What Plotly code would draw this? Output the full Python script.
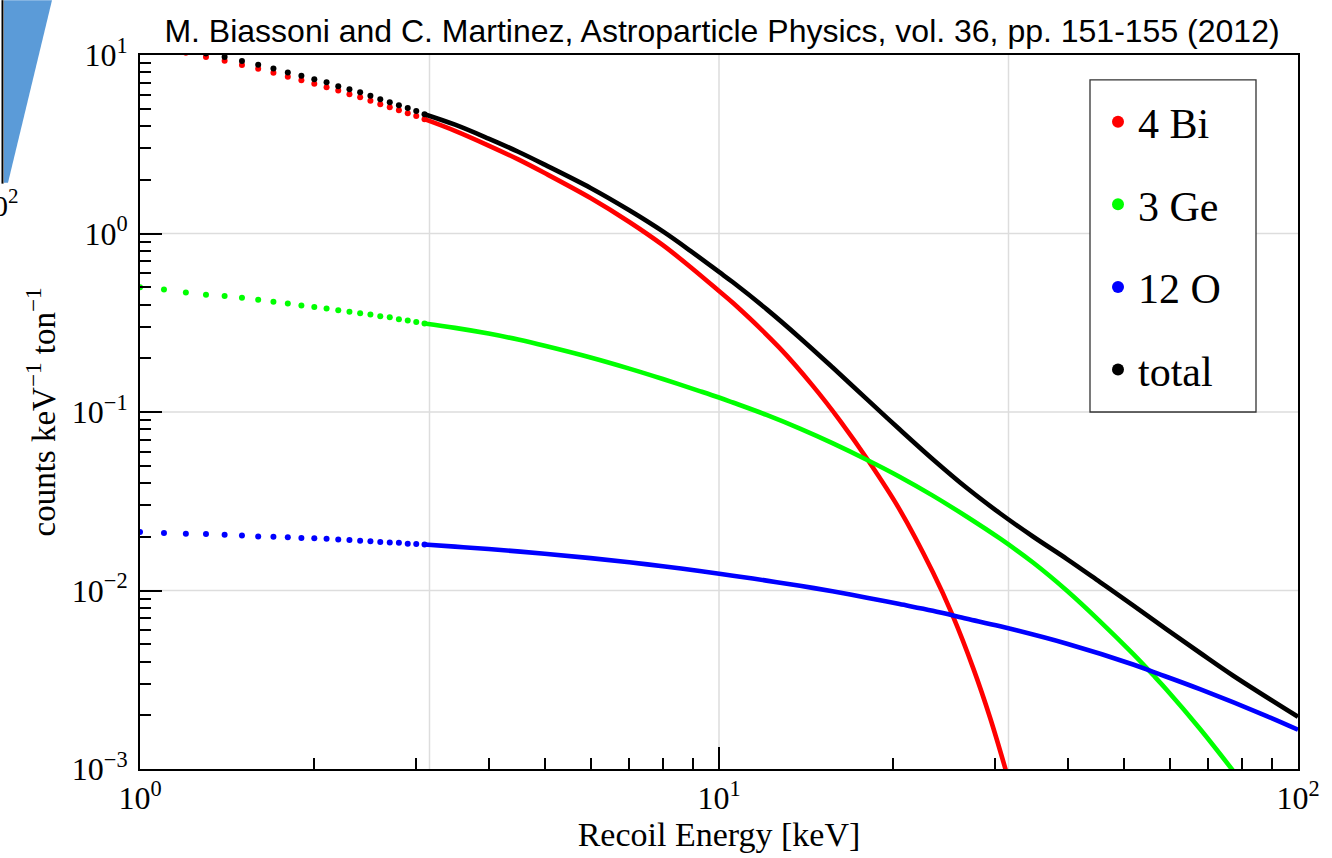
import plotly.graph_objects as go

# ---------------- data ----------------
# low-energy region: individual dots every 0.1 keV
energy_dots = [1.0, 1.1, 1.2, 1.3, 1.4, 1.5, 1.6, 1.7, 1.8, 1.9, 2.0,
               2.1, 2.2, 2.3, 2.4, 2.5, 2.6, 2.7, 2.8, 2.9, 3.0, 3.1]
bi_dots = [11.4, 10.8, 10.3, 9.75, 9.3, 8.8, 8.38, 7.96, 7.56, 7.22, 6.91,
           6.6, 6.32, 6.03, 5.8, 5.55, 5.3, 5.1, 4.91, 4.72, 4.55, 4.37]
ge_dots = [0.50, 0.485, 0.467, 0.454, 0.447, 0.437, 0.426, 0.415, 0.405, 0.395, 0.388,
           0.380, 0.371, 0.365, 0.357, 0.352, 0.344, 0.339, 0.331, 0.326, 0.319, 0.313]
o_dots = [0.0213, 0.0210, 0.0208, 0.0207, 0.0205, 0.0203, 0.0201, 0.0200, 0.0199, 0.0197, 0.0196,
          0.0195, 0.0193, 0.0192, 0.0190, 0.0189, 0.0187, 0.0186, 0.0185, 0.0183, 0.0182, 0.0181]
total_dots = [12.0, 11.4, 10.8, 10.2, 9.75, 9.25, 8.83, 8.4, 7.98, 7.65, 7.32,
              7.04, 6.68, 6.43, 6.19, 5.92, 5.65, 5.44, 5.23, 5.04, 4.85, 4.66]

# higher-energy region: dots merge into a continuous curve
bi_line_e = [3.1, 3.5, 4, 4.5, 5, 6, 7, 8, 9, 10, 10.6, 12.7, 14.5, 16.2, 18.1,
             20.5, 23.4, 25.3, 27.5, 29.4, 31.6]
bi_line_v = [4.37, 3.76, 3.11, 2.60, 2.18, 1.58, 1.16, 0.86, 0.635, 0.476, 0.405, 0.23,
             0.141, 0.089, 0.0535, 0.0285, 0.0127, 0.0073, 0.00365, 0.00193, 0.00088]

ge_line_e = [3.1, 3.5, 4, 4.5, 5, 6, 7, 8, 9.26, 10, 10.57, 12.08, 13.8, 15.7, 18.1,
             20.5, 23.4, 26.8, 30.6, 34.9, 39.9, 45.5, 51.9, 56.2, 59.3, 67.7, 77.3]
ge_line_v = [0.313, 0.296, 0.275, 0.2545, 0.235, 0.202, 0.175, 0.153, 0.131, 0.1205, 0.113,
             0.0963, 0.0807, 0.0669, 0.0535, 0.0434, 0.034, 0.0259, 0.0195, 0.0143,
             0.00997, 0.00672, 0.00441, 0.00336, 0.00278, 0.00168, 0.000975]

o_line_e = [3.1, 3.5, 4, 5, 6, 7, 8, 9.26, 10.57, 12.08, 13.8, 15.7, 18.0, 20.5, 23.4,
            26.8, 30.6, 39.9, 51.9, 56.2, 67.7, 88.3, 100]
o_line_v = [0.0181, 0.01762, 0.01707, 0.01607, 0.01519, 0.01439, 0.01368, 0.01286, 0.0121,
            0.01136, 0.01063, 0.0099, 0.00912, 0.00839, 0.0077, 0.00695, 0.0063, 0.00503,
            0.00385, 0.0035, 0.0028, 0.00198, 0.00166]

total_line_e = [3.1, 3.5, 4, 4.5, 5, 6, 7, 8, 9, 10, 10.57, 12.08, 13.8, 15.7, 18.0,
                20.5, 23.4, 26.8, 30.6, 34.9, 39.9, 45.5, 51.9, 59.3, 67.7, 77.3, 100]
total_line_v = [4.66, 4.07, 3.40, 2.87, 2.43, 1.80, 1.35, 1.027, 0.784, 0.609, 0.533, 0.377,
                0.260, 0.178, 0.118, 0.080, 0.0544, 0.0375, 0.027, 0.0200, 0.015, 0.01115,
                0.00826, 0.00606, 0.00448, 0.00333, 0.00196]

series_names = ["4 Bi", "3 Ge", "12 O", "total"]
series_colors = ["#ff0000", "#00ff00", "#0000ff", "#000000"]

x_tick_vals = [1, 10, 100]
x_tick_text = ["10<sup>0</sup>", "10<sup>1</sup>", "10<sup>2</sup>"]
y_tick_vals = [0.001, 0.01, 0.1, 1, 10]
y_tick_text = ["10<sup>−3</sup>", "10<sup>−2</sup>", "10<sup>−1</sup>",
               "10<sup>0</sup>", "10<sup>1</sup>"]
x_minor_vals = [2, 3, 4, 5, 6, 7, 8, 9, 20, 30, 40, 50, 60, 70, 80, 90]
y_minor_vals = [0.002, 0.003, 0.004, 0.005, 0.006, 0.007, 0.008, 0.009,
                0.02, 0.03, 0.04, 0.05, 0.06, 0.07, 0.08, 0.09,
                0.2, 0.3, 0.4, 0.5, 0.6, 0.7, 0.8, 0.9,
                2, 3, 4, 5, 6, 7, 8, 9]
x_grid_vals = [3.1623, 10, 31.623]
y_grid_vals = [0.01, 0.1, 1]

title_text = "M. Biassoni and C. Martinez, Astroparticle Physics, vol. 36, pp. 151-155 (2012)"

SERIF = "Liberation Serif, Times New Roman, serif"
SANS = "Liberation Sans, Arial, Helvetica, sans-serif"

# ---------------- figure ----------------
fig = go.Figure()

dot_sets = [bi_dots, ge_dots, o_dots, total_dots]
line_sets = [(bi_line_e, bi_line_v), (ge_line_e, ge_line_v),
             (o_line_e, o_line_v), (total_line_e, total_line_v)]

for name, color, dots, (le, lv) in zip(series_names, series_colors, dot_sets, line_sets):
    fig.add_trace(go.Scatter(
        x=energy_dots, y=dots, mode="markers", name=name,
        legendgroup=name, showlegend=True,
        marker=dict(color=color, size=6, line=dict(width=0)),
    ))
    fig.add_trace(go.Scatter(
        x=le, y=lv, mode="lines", name=name,
        legendgroup=name, showlegend=False,
        line=dict(color=color, width=4.6, shape="spline", smoothing=1.0),
    ))

# plot-area pixel geometry
L, R, T, B = 140, 34, 55, 87
W, H = 1332, 858
pw, ph = W - L - R, H - T - B


def px_x(px):
    return (px - L) / pw


def px_y(py):
    return (H - B - py) / ph


shapes = []
for gx in x_grid_vals:
    shapes.append(dict(type="line", xref="x", yref="paper", x0=gx, x1=gx, y0=0, y1=1,
                       line=dict(color="#dddddd", width=1.5), layer="below"))
for gy in y_grid_vals:
    shapes.append(dict(type="line", xref="paper", yref="y", x0=0, x1=1, y0=gy, y1=gy,
                       line=dict(color="#dddddd", width=1.5), layer="below"))
# legend frame
shapes.append(dict(type="rect", xref="paper", yref="paper",
                   x0=px_x(1090), x1=px_x(1256), y0=px_y(413), y1=px_y(80),
                   line=dict(color="#333333", width=1.3), fillcolor="white", layer="below"))
# fragment of a neighbouring figure at the top-left edge
shapes.append(dict(type="path", xref="paper", yref="paper",
                   path=(f"M {px_x(4)} {px_y(0)} L {px_x(52)} {px_y(0)} "
                         f"L {px_x(8)} {px_y(183)} L {px_x(4)} {px_y(183)} Z"),
                   fillcolor="#5b9bd8", line=dict(width=0), layer="above"))
shapes.append(dict(type="line", xref="paper", yref="paper",
                   x0=px_x(2.5), x1=px_x(2.5), y0=px_y(0), y1=px_y(184),
                   line=dict(color="black", width=2), layer="above"))

annotations = [
    dict(text="10<sup>2</sup>", xref="paper", yref="paper", x=px_x(21), y=px_y(203),
         xanchor="right", yanchor="middle", showarrow=False,
         font=dict(family=SERIF, size=30, color="black")),
]

fig.update_layout(
    width=W, height=H,
    margin=dict(l=L, r=R, t=T, b=B),
    paper_bgcolor="white", plot_bgcolor="white",
    title=dict(text=title_text, x=722 / W, xanchor="center",
               y=1 - 31 / H, yanchor="middle",
               font=dict(family=SANS, size=32, color="black")),
    shapes=shapes, annotations=annotations,
    showlegend=True,
    legend=dict(x=px_x(1098), y=px_y(88), xanchor="left", yanchor="top",
                bgcolor="rgba(0,0,0,0)", borderwidth=0,
                font=dict(family=SERIF, size=42, color="black"),
                itemsizing="constant", tracegroupgap=25, traceorder="grouped"),
)

fig.update_xaxes(
    type="log", range=[0, 2],
    tickvals=x_tick_vals, ticktext=x_tick_text,
    ticks="inside", ticklen=22, tickwidth=2, tickcolor="black",
    showline=True, linecolor="black", linewidth=2, mirror=True,
    showgrid=False, zeroline=False,
    tickfont=dict(family=SERIF, size=32, color="black"),
    minor=dict(tickvals=x_minor_vals, ticks="inside", ticklen=11, tickwidth=1.5,
               tickcolor="black", showgrid=False),
    title=dict(text="Recoil Energy [keV]", standoff=6,
               font=dict(family=SERIF, size=34, color="black")),
)
fig.update_yaxes(
    type="log", range=[-3, 1],
    tickvals=y_tick_vals, ticktext=y_tick_text,
    ticks="inside", ticklen=22, tickwidth=2, tickcolor="black",
    showline=True, linecolor="black", linewidth=2, mirror=True,
    showgrid=False, zeroline=False,
    tickfont=dict(family=SERIF, size=32, color="black"),
    ticklabelstandoff=4,
    minor=dict(tickvals=y_minor_vals, ticks="inside", ticklen=11, tickwidth=1.5,
               tickcolor="black", showgrid=False),
    title=dict(text="counts keV<sup>−1</sup> ton<sup>−1</sup>", standoff=6,
               font=dict(family=SERIF, size=33, color="black")),
)

fig.write_html("out.html")
